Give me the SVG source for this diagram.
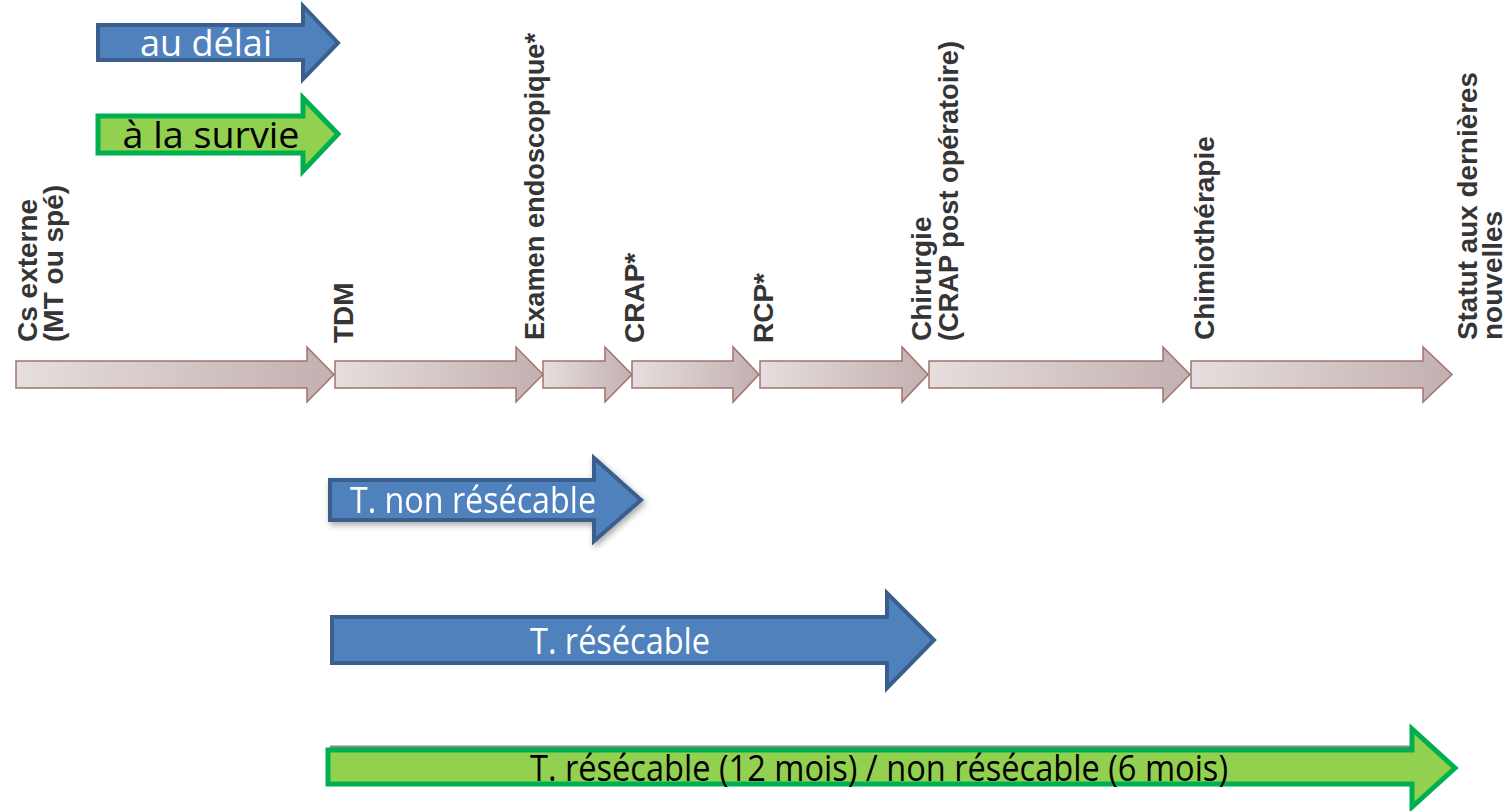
<svg xmlns="http://www.w3.org/2000/svg" width="1505" height="811" viewBox="0 0 1505 811">
<style>
.step{fill:url(#g);stroke:#A2736C;stroke-width:1.5}
.lbl{font-family:"Liberation Sans",Arial,sans-serif;font-weight:bold;font-size:28px;fill:#353535}
.blue{fill:#4F81BD;stroke:#3A5F8C;stroke-width:4}
.green{fill:#92D050;stroke:#00B050;stroke-width:5}
.bt{font-family:"Open Sans","Liberation Sans",sans-serif;font-size:36px;fill:#fff;text-anchor:middle}
.gt{font-family:"Open Sans","Liberation Sans",sans-serif;font-size:36px;fill:#000;text-anchor:middle}
</style>
<defs>
<linearGradient id="g" x1="0" y1="0" x2="1" y2="0">
<stop offset="0" stop-color="#E6DEDE"/>
<stop offset="1" stop-color="#C3B0B0"/>
</linearGradient>
<filter id="sh" x="-10%" y="-20%" width="130%" height="150%">
<feDropShadow dx="2" dy="3" stdDeviation="3" flood-color="#000" flood-opacity="0.35"/>
</filter>
</defs>
<rect width="1505" height="811" fill="#fff"/>

<g id="legend-delai">
<path class="blue" d="M98,25 H303 V6 L338,43 L303,79 V60 H98 Z"/>
<text class="bt" x="206" y="56" font-size="40" textLength="132" lengthAdjust="spacingAndGlyphs">au délai</text>
</g>
<g id="legend-survie">
<path class="green" d="M98,116 H303 V98 L338,134 L303,171 V153 H98 Z"/>
<text class="gt" x="211" y="148" font-size="40" textLength="177" lengthAdjust="spacingAndGlyphs">à la survie</text>
</g>

<g id="connectors">
<path class="step" d="M16,361 H307 V347 L334,374.5 L307,402 V388 H16 Z"/>
<path class="step" d="M335,361 H516 V347 L543,374.5 L516,402 V388 H335 Z"/>
<path class="step" d="M543,361 H605 V347 L632,374.5 L605,402 V388 H543 Z"/>
<path class="step" d="M632,361 H733 V347 L759,374.5 L733,402 V388 H632 Z"/>
<path class="step" d="M760,361 H902 V347 L928,374.5 L902,402 V388 H760 Z"/>
<path class="step" d="M929,361 H1163 V347 L1190,374.5 L1163,402 V388 H929 Z"/>
<path class="step" d="M1191,361 H1423 V347 L1452,374.5 L1423,402 V388 H1191 Z"/>
</g>

<g id="n-cs"><text class="lbl" transform="translate(37,342) rotate(-90)">Cs externe</text><text class="lbl" transform="translate(63,342) rotate(-90)">(MT ou spé)</text></g>
<g id="n-tdm"><text class="lbl" transform="translate(353,343) rotate(-90)">TDM</text></g>
<g id="n-examen"><text class="lbl" transform="translate(544,340) rotate(-90)" textLength="307" lengthAdjust="spacingAndGlyphs">Examen endoscopique*</text></g>
<g id="n-crap"><text class="lbl" transform="translate(644,343) rotate(-90)">CRAP*</text></g>
<g id="n-rcp"><text class="lbl" transform="translate(773,343) rotate(-90)">RCP*</text></g>
<g id="n-chir"><text class="lbl" transform="translate(931,341) rotate(-90)">Chirurgie</text><text class="lbl" transform="translate(958,341) rotate(-90)" textLength="300" lengthAdjust="spacingAndGlyphs">(CRAP post opératoire)</text></g>
<g id="n-chimio"><text class="lbl" transform="translate(1214,340) rotate(-90)">Chimiothérapie</text></g>
<g id="n-statut"><text class="lbl" transform="translate(1477,340) rotate(-90)" textLength="268" lengthAdjust="spacingAndGlyphs">Statut aux dernières</text><text class="lbl" transform="translate(1502,340) rotate(-90)">nouvelles</text></g>

<g id="t-non-resecable" filter="url(#sh)">
<path class="blue" d="M330,480 H594 V458 L641,500 L594,541 V520 H330 Z"/>
<text class="bt" x="473" y="513" textLength="246" lengthAdjust="spacingAndGlyphs">T. non résécable</text>
</g>
<g id="t-resecable">
<path class="blue" d="M332,617 H887 V593 L934,640 L887,688 V663 H332 Z"/>
<text class="bt" x="620" y="654" textLength="180" lengthAdjust="spacingAndGlyphs">T. résécable</text>
</g>
<g id="t-survie">
<path d="M330,747 H1412" stroke="#8a8a8a" stroke-width="3" fill="none"/>
<path class="green" d="M328,750 H1412 V729 L1455,768 L1412,807 V784 H328 Z"/>
<text class="gt" x="879" y="781" font-size="38" textLength="698" lengthAdjust="spacingAndGlyphs">T. résécable (12 mois) / non résécable (6 mois)</text>
</g>
</svg>
